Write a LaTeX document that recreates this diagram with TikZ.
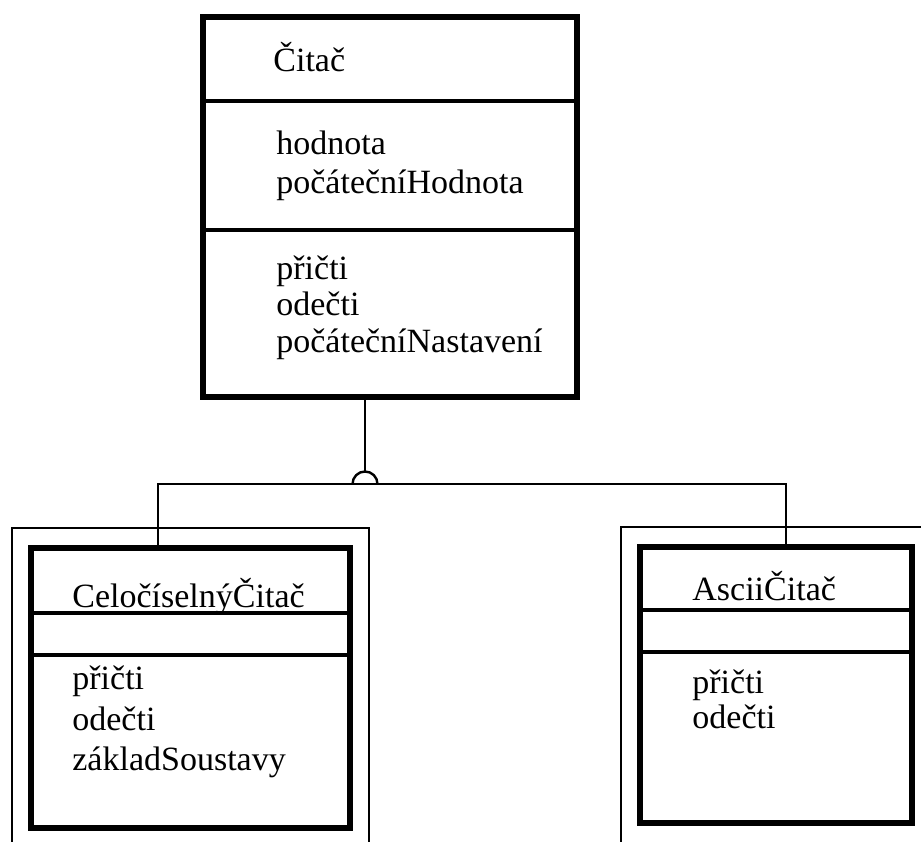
\documentclass[tikz,border=0pt]{standalone}
\usepackage{fontspec}
\setmainfont{Liberation Serif}
\begin{document}
\begin{tikzpicture}[x=0.5pt,y=-0.5pt,
  classbox/.style={draw,line width=2.6pt,inner sep=0pt},
  divider/.style={line width=2pt},
  link/.style={line width=1.2pt},
  frame/.style={line width=1.2pt},
  lbl/.style={anchor=base west,inner sep=0pt,font=\fontsize{17pt}{20pt}\selectfont}]
\useasboundingbox (0,0) rectangle (921,841);

% class boxes
\node[classbox,minimum width=187pt,minimum height=190pt] (citac) at (390,207) {};
\node[classbox,minimum width=159.5pt,minimum height=140pt] (celo) at (190.5,688) {};
\node[classbox,minimum width=136pt,minimum height=138pt] (ascii) at (776,685) {};

\draw[divider] (203,101) -- (577,101);
\draw[divider] (203,230) -- (577,230);
\draw[divider] (31,613) -- (350,613);
\draw[divider] (31,655) -- (350,655);
\draw[divider] (640,610) -- (912,610);
\draw[divider] (640,652) -- (912,652);

% outer frames
\draw[frame] (12,845) |- (369,528) -- (369,845);
\draw[frame] (621,845) |- (925,527);

% texts
\node[lbl] (citacName) at (273,71) {Čitač};
\node[lbl] (citacA1) at (276,154) {hodnota};
\node[lbl] (citacA2) at (276,193) {počátečníHodnota};
\node[lbl] (citacM1) at (276,279) {přičti};
\node[lbl] (citacM2) at (276,315) {odečti};
\node[lbl] (citacM3) at (276,352) {počátečníNastavení};

\node[lbl] (celoName) at (72,607) {CeločíselnýČitač};
\node[lbl] (celoM1) at (72,689) {přičti};
\node[lbl] (celoM2) at (72,730) {odečti};
\node[lbl] (celoM3) at (72,770) {základSoustavy};

\node[lbl] (asciiName) at (692,600) {AsciiČitač};
\node[lbl] (asciiM1) at (692,693) {přičti};
\node[lbl] (asciiM2) at (692,728) {odečti};

% generalization
\coordinate (gen) at (365,484);
\coordinate (genTop) at (365,471.5);
\coordinate (celoTop) at (158,548);
\coordinate (asciiTop) at (786,547);
\draw[link] (gen) ++(-12.5,0) arc (180:360:12.5);
\draw[link] (citac.south -| genTop) -- (genTop);
\draw[link] (celoTop) |- (gen) -| (asciiTop);
\end{tikzpicture}
\end{document}
